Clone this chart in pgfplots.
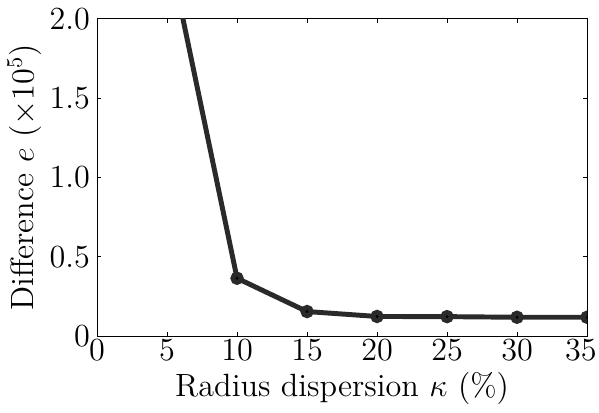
\documentclass[border=0pt]{standalone}
\usepackage{pgfplots}
\pgfplotsset{compat=1.18}
\definecolor{linegray}{HTML}{2A2A2A}
\begin{document}
\begin{tikzpicture}
\begin{axis}[
  name=main,
  scale only axis,
  width=218.2bp, height=141.3bp,
  xmin=0, xmax=35, ymin=0, ymax=2.0,
  xtick={0,5,10,15,20,25,30,35},
  xticklabels={0,5,10,15,20,25,30,\hspace*{-5.4bp}35},
  ytick={0,0.5,1.0,1.5,2.0},
  yticklabels={0,0.5,1.0,1.5,2.0},
  tick align=inside,
  major tick length=1.8bp,
  tick style={black, line width=0.4pt},
  axis line style={black, line width=0.45pt},
  ticklabel style={font=\fontsize{14.4}{17}\selectfont},
  xticklabel style={inner sep=1bp},
  yticklabel style={inner sep=1bp, xshift=-2bp},
  label style={font=\fontsize{14.4}{17}\selectfont},
  xlabel={Radius dispersion $\kappa$ (\%)},
  ylabel={Difference $e$ ($\times 10^5$)},
  xlabel style={yshift=-0.7bp},
  ylabel style={yshift=-1bp},
  clip marker paths=true,
]
\addplot[color=linegray, line width=2.2bp, mark=*, mark size=1.85bp, mark options={fill=black, draw=none, solid}]
coordinates {
(5,2.48) (10,0.365) (15,0.155) (20,0.124) (25,0.123) (30,0.119) (35,0.119)
};
\end{axis}
\path ([yshift=8.4bp]main.north);
\end{tikzpicture}
\end{document}
